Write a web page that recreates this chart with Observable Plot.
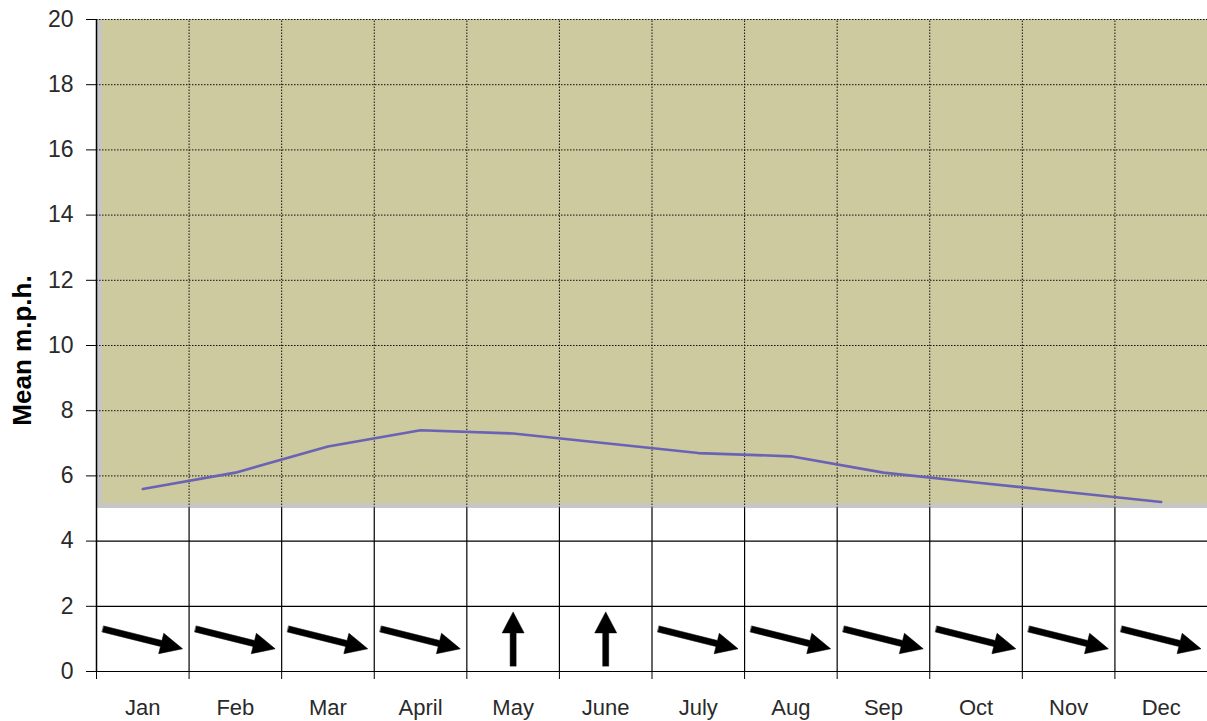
<!DOCTYPE html>
<html><head><meta charset="utf-8">
<script src="https://cdn.jsdelivr.net/npm/d3@7"></script>
<script src="https://cdn.jsdelivr.net/npm/@observablehq/plot@0.6"></script>
<style>body{margin:0;background:#fff}</style>
</head><body><div id="chart"></div>
<script>
const months = ["Jan","Feb","Mar","April","May","June","July","Aug","Sep","Oct","Nov","Dec"];
const meanSpeed = [5.6, 6.1, 6.9, 7.4, 7.3, 7.0, 6.7, 6.6, 6.1, 5.8, 5.5, 5.2];
// direction the wind arrow points, degrees clockwise from up
const windBearing = [104, 104, 104, 104, 0, 0, 104, 104, 104, 104, 104, 104];
const yTicks = [0, 2, 4, 6, 8, 10, 12, 14, 16, 18, 20];
const shadedRange = [5, 20];
const arrowLevel = 1;

const rows = months.map((m, i) => ({month: m, pos: i + 0.5, speed: meanSpeed[i], bearing: windBearing[i]}));
const bounds = d3.range(months.length + 1);
const inner = bounds.slice(1, -1);
const yMax = yTicks[yTicks.length - 1];

const fatArrow = (headLen, headHalf, shaftHalf) => ({
  draw(ctx, l) {
    const b = -(l - headLen);
    ctx.moveTo(-shaftHalf, 0);
    ctx.lineTo(-shaftHalf, b);
    ctx.lineTo(-headHalf, b);
    ctx.lineTo(0, -l);
    ctx.lineTo(headHalf, b);
    ctx.lineTo(shaftHalf, b);
    ctx.lineTo(shaftHalf, 0);
    ctx.closePath();
  }
});

const dotted = {stroke: "#111", strokeWidth: 1, strokeDasharray: "1.5 1.5"};
const solid = {stroke: "#000", strokeWidth: 1.2};

const chart = Plot.plot({
  width: 1207,
  height: 721,
  marginLeft: 96,
  marginRight: 0,
  marginTop: 19,
  marginBottom: 50,
  style: {fontFamily: "'Liberation Sans', Arial, sans-serif", fontSize: "22px", background: "#fff", color: "#000"},
  x: {type: "linear", domain: [0, months.length], label: null},
  y: {type: "linear", domain: [0, yMax], label: null},
  marks: [
    Plot.rect([shadedRange], {x1: 0, x2: months.length, y1: d => d[0], y2: d => d[1], fill: "#c6c6c4"}),
    Plot.rect([shadedRange], {x1: 0, x2: months.length, y1: d => d[0], y2: d => d[1], fill: "#cdca9f", insetLeft: 6, insetBottom: 5}),
    Plot.ruleY(yTicks.filter(v => v > 0 && v < shadedRange[0]), {...solid}),
    Plot.ruleY(yTicks.filter(v => v > shadedRange[0]), {...dotted}),
    Plot.ruleX(inner, {y1: 0, y2: shadedRange[0], ...solid}),
    Plot.ruleX(inner, {y1: shadedRange[0], y2: yMax, ...dotted}),
    Plot.ruleY([0], {...solid}),
    Plot.ruleX([0], {y1: 0, y2: yMax, stroke: "#000", strokeWidth: 1.5}),
    Plot.axisY(yTicks, {tickSize: 10, tickPadding: 13, fontSize: 23, fill: "#2a2a2a", stroke: "#000", label: null}),
    Plot.axisX(bounds, {tickSize: 8, tickFormat: () => "", stroke: "#000", label: null}),
    Plot.axisX(rows.map(d => d.pos), {tickSize: 0, tickPadding: 28, fontSize: 22, fill: "#2a2a2a", tickFormat: d => months[Math.floor(d)], label: null}),
    Plot.line(rows, {x: "pos", y: "speed", stroke: "#6a62b4", strokeWidth: 2.6, curve: "linear"}),
    Plot.vector(rows.filter(d => d.bearing !== 0), {x: "pos", y: () => arrowLevel, rotate: "bearing", length: 82, anchor: "middle", shape: fatArrow(22, 10.5, 3.1), fill: "#000", stroke: "#000", strokeWidth: 0.5}),
    Plot.vector(rows.filter(d => d.bearing === 0), {x: "pos", y: () => arrowLevel, rotate: "bearing", length: 54, anchor: "middle", shape: fatArrow(21, 11, 3), fill: "#000", stroke: "#000", strokeWidth: 0.5}),
    Plot.text(["Mean m.p.h."], {frameAnchor: "left", textAnchor: "middle", rotate: -90, dx: -74, dy: 5, fontWeight: "bold", fontSize: 26, fill: "#000"})
  ]
});
document.getElementById("chart").appendChild(chart);
</script>
</body></html>
